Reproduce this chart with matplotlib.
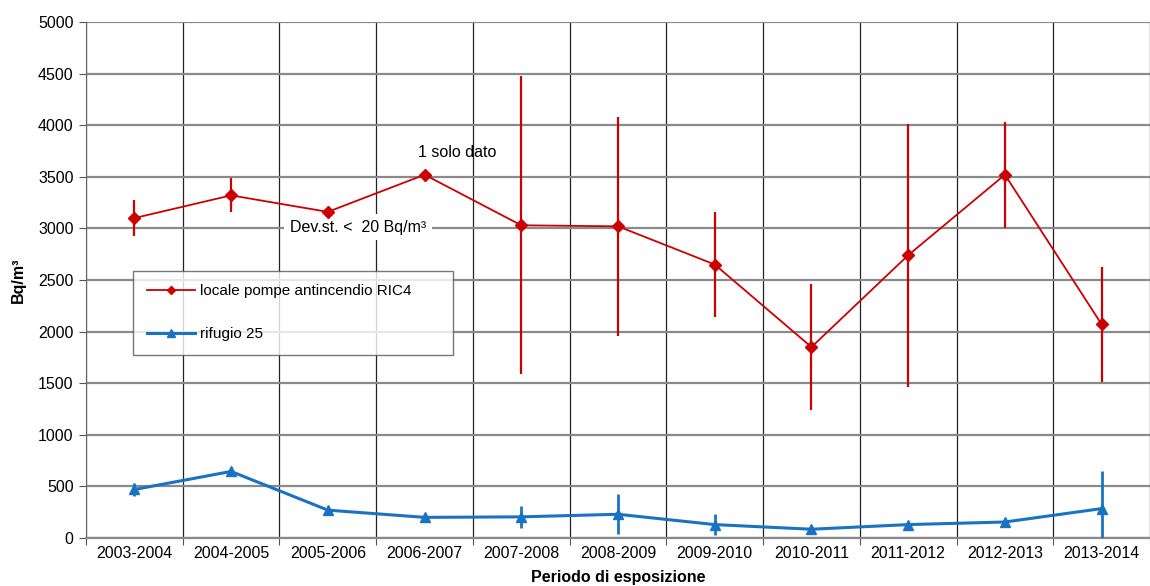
import matplotlib
matplotlib.use("Agg")
import matplotlib.pyplot as plt
import numpy as np

plt.rcParams["font.family"] = ["Liberation Sans", "DejaVu Sans"]

# Data
periods = ["2003-2004", "2004-2005", "2005-2006", "2006-2007", "2007-2008",
           "2008-2009", "2009-2010", "2010-2011", "2011-2012", "2012-2013",
           "2013-2014"]
ric4 = [3100, 3320, 3160, 3520, 3030, 3020, 2650, 1850, 2740, 3520, 2070]
ric4_err = [175, 165, 0, 0, 1445, 1060, 510, 610, 1275, 515, 555]
rifugio = [470, 645, 270, 200, 205, 230, 130, 85, 130, 155, 285]
rifugio_err = [65, 0, 0, 0, 105, 195, 100, 0, 0, 0, 365]

red = "#cc0000"
blue = "#1a73c2"

fig = plt.figure(figsize=(11.5, 5.86), dpi=100, facecolor="white")
ax = fig.add_axes([0.0748, 0.0819, 0.9252, 0.8806])

x = np.arange(len(periods))

# error bars
ax.errorbar(x, ric4, yerr=ric4_err, fmt="none", ecolor=red, elinewidth=1.6,
            capsize=0, zorder=4)
ax.errorbar(x, rifugio, yerr=rifugio_err, fmt="none", ecolor=blue,
            elinewidth=2.0, capsize=0, zorder=4)

ax.plot(x, ric4, color=red, lw=1.3, marker="D", markersize=6.5,
        markerfacecolor=red, markeredgecolor=red, zorder=5,
        label="locale pompe antincendio RIC4")
ax.plot(x, rifugio, color=blue, lw=2.2, marker="^", markersize=7.5,
        markerfacecolor=blue, markeredgecolor=blue, zorder=5,
        label="rifugio 25")

ax.set_xlim(-0.5, len(periods) - 0.5)
ax.set_ylim(0, 5000)
ax.set_yticks(np.arange(0, 5001, 500))

ax.set_xticks(np.arange(-0.5, len(periods), 1.0))
ax.set_xticklabels([])
ax.set_xticks(x, minor=True)
ax.set_xticklabels(periods, minor=True, fontsize=11.5)
ax.tick_params(axis="x", which="minor", length=0, pad=6)
ax.tick_params(axis="x", which="major", length=5, color="#555555")
ax.tick_params(axis="y", labelsize=11.5, length=5, color="#555555", pad=4)

ax.grid(axis="y", color="#8a8a8a", lw=1.6, zorder=0)
ax.grid(axis="x", which="major", color="#222222", lw=0.9, zorder=0)
ax.set_axisbelow(True)

for s in ["top", "right"]:
    ax.spines[s].set_visible(False)
ax.spines["left"].set_color("#666666")
ax.spines["bottom"].set_color("#8a8a8a")
ax.spines["bottom"].set_linewidth(1.6)

ax.set_ylabel("Bq/m³", fontsize=11.5, fontweight="bold", labelpad=9)
ax.set_xlabel("Periodo di esposizione", fontsize=11.5, fontweight="bold",
              labelpad=6)

ax.text(3.34, 3740, "1 solo dato", fontsize=11.5, ha="center", va="center")
ax.text(2.31, 3010, "Dev.st. <  20 Bq/m³", fontsize=11.5, ha="center",
        va="center", zorder=3,
        bbox=dict(facecolor="white", edgecolor="none", pad=4))

leg = ax.legend(loc="upper left", bbox_to_anchor=(0.044, 0.386, 0.301, 0.132),
                mode="expand", fontsize=11, frameon=True, fancybox=False,
                labelspacing=1.9, handlelength=3.2, borderpad=0.9,
                borderaxespad=0, handletextpad=0.3, markerscale=0.7)
leg.get_frame().set_edgecolor("#555555")
leg.get_frame().set_linewidth(1.0)

fig.savefig("out.png", dpi=100, facecolor="white")
